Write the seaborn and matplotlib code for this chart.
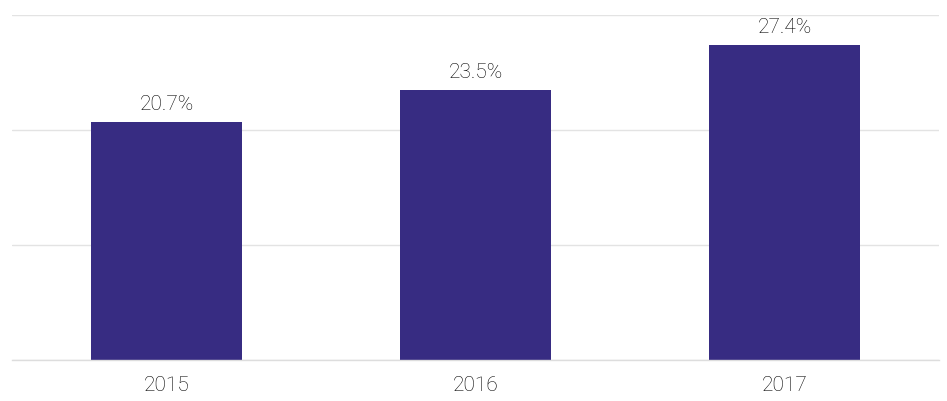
import matplotlib
matplotlib.use("Agg")
import matplotlib.pyplot as plt
import seaborn as sns
import pandas as pd

years = ["2015", "2016", "2017"]
values = [20.7, 23.5, 27.4]
labels = ["20.7%", "23.5%", "27.4%"]

sns.set_theme(style="white")
plt.rcParams['font.family'] = ['Roboto', 'DejaVu Sans']

df = pd.DataFrame({"year": years, "value": values})

fig = plt.figure(figsize=(9.47, 4.02), dpi=100)
ax = fig.add_axes([12/947, 1 - 361/402, 927/947, 345/402])

sns.barplot(data=df, x="year", y="value", color="#372c82", width=0.49,
            saturation=1, ax=ax, zorder=3, linewidth=0, edgecolor="none")

ax.set_ylim(0, 30)
ax.set_xlim(-0.5, 2.5)
ax.set_yticks([0, 10, 20, 30])
ax.yaxis.grid(True, color="#e3e3e3", linewidth=1, zorder=0)
ax.xaxis.grid(False)
ax.set_yticklabels([])
ax.tick_params(axis="y", length=0)
ax.tick_params(axis="x", length=0, pad=11, labelsize=15, labelcolor="#000000")
for lbl in ax.get_xticklabels():
    lbl.set_fontweight("light")
for s in ax.spines.values():
    s.set_visible(False)
ax.spines["bottom"].set_visible(True)
ax.spines["bottom"].set_color("#dddddd")
ax.spines["bottom"].set_linewidth(1)
ax.spines["bottom"].set_zorder(4)
ax.set_xlabel("")
ax.set_ylabel("")

for i, (v, t) in enumerate(zip(values, labels)):
    ax.annotate(t, (i, v), xytext=(0, 13), textcoords="offset pixels",
                ha="center", va="baseline", fontsize=15, color="#000000",
                fontweight="light")

fig.savefig("out.png", dpi=100)
